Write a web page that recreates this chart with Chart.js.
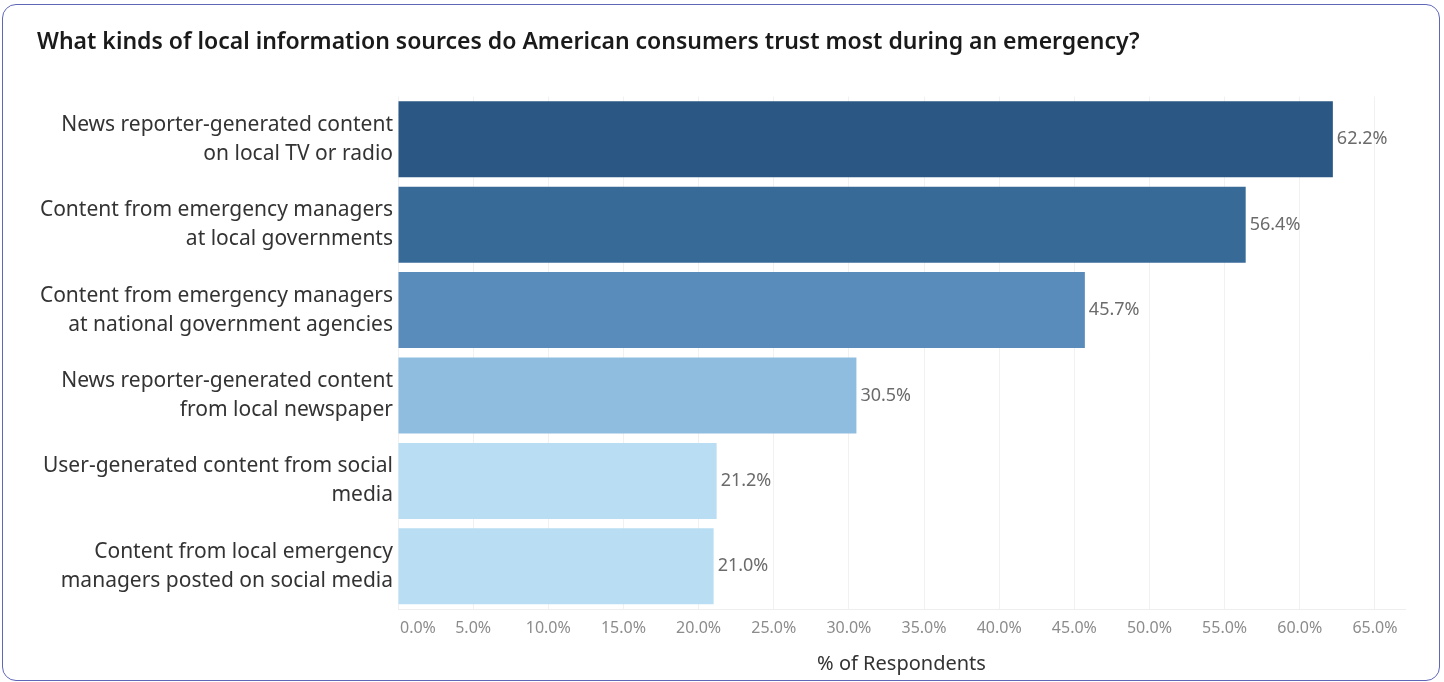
<!DOCTYPE html>
<html>
<head>
<meta charset="utf-8">
<script src="https://cdn.jsdelivr.net/npm/chart.js@4"></script>
<style>
    html, body { margin: 0; padding: 0; background: #fff; }
    .frame {
        position: absolute;
        left: 2px; top: 4px;
        width: 1436px; height: 675px;
        border: 1.5px solid #5f67b9;
        border-radius: 14px;
    }
    .chart-wrap {
        position: absolute;
        left: 0; top: 0;
        width: 1444px; height: 682px;
    }
</style>
</head>
<body>
<div class="frame"></div>
<div class="chart-wrap"><canvas id="trustChart"></canvas></div>
<script>
// Survey categories and share of respondents (%)
const sources = [
    ['News reporter-generated content', 'on local TV or radio'],
    ['Content from emergency managers', 'at local governments'],
    ['Content from emergency managers', 'at national government agencies'],
    ['News reporter-generated content', 'from local newspaper'],
    ['User-generated content from social', 'media'],
    ['Content from local emergency', 'managers posted on social media']
];
const respondents = [62.2, 56.4, 45.7, 30.5, 21.2, 21.0];
const barColors = ['#2a5783', '#386a98', '#5a8cbb', '#8fbde0', '#b9ddf2', '#b9ddf2'];
const axisMax = 67;
const tickStep = 5;

const fontFamily = '"Noto Sans", "Open Sans", sans-serif';

// Value labels at the end of each bar + left-aligned first x tick
const barLabels = {
    id: 'barLabels',
    afterDatasetsDraw(chart) {
        const ctx = chart.ctx;
        const meta = chart.getDatasetMeta(0);
        ctx.save();
        ctx.font = '18px ' + fontFamily;
        ctx.fillStyle = '#6b6b6b';
        ctx.textAlign = 'left';
        ctx.textBaseline = 'middle';
        meta.data.forEach((bar, i) => {
            ctx.fillText(respondents[i].toFixed(1) + '%', bar.x + 4, bar.y);
        });
        ctx.restore();
    },
    afterDraw(chart) {
        const x = chart.scales.x;
        const ctx = chart.ctx;
        ctx.save();
        ctx.font = '16px ' + fontFamily;
        ctx.fillStyle = '#8c8c8c';
        ctx.textAlign = 'left';
        ctx.textBaseline = 'middle';
        ctx.fillText('0.0%', x.getPixelForValue(0) + 2, x.top + 19.6);
        ctx.restore();
    }
};

const ctx = document.getElementById('trustChart').getContext('2d');
const trustChart = new Chart(ctx, {
    type: 'bar',
    data: {
        labels: sources,
        datasets: [{
            data: respondents,
            backgroundColor: barColors,
            borderWidth: 0,
            barPercentage: 0.89,
            categoryPercentage: 1
        }]
    },
    options: {
        indexAxis: 'y',
        responsive: true,
        maintainAspectRatio: false,
        animation: false,
        layout: {
            padding: { left: 37, right: 39, top: 0, bottom: 6 }
        },
        plugins: {
            legend: { display: false },
            tooltip: { enabled: false },
            title: {
                display: true,
                text: 'What kinds of local information sources do American consumers trust most during an emergency?',
                align: 'start',
                color: '#1a1a1a',
                font: { family: fontFamily, size: 23, weight: '600' },
                padding: { top: 29, bottom: 40 }
            }
        },
        scales: {
            x: {
                min: 0,
                max: axisMax,
                afterFit(scale) { scale.height = 67; },
                border: { display: true, color: '#eeeeee' },
                grid: { color: '#f1f1f1', drawTicks: false },
                ticks: {
                    stepSize: tickStep,
                    includeBounds: false,
                    padding: 10,
                    maxRotation: 0,
                    autoSkip: false,
                    color: c => c.index === 0 ? 'rgba(0,0,0,0)' : '#8c8c8c',
                    font: { family: fontFamily, size: 16 },
                    callback: v => v.toFixed(1) + '%'
                },
                title: {
                    display: true,
                    text: '% of Respondents',
                    color: '#333333',
                    font: { family: fontFamily, size: 20 },
                    padding: { top: 14, bottom: 0 }
                }
            },
            y: {
                border: { display: false },
                grid: { display: false },
                afterFit(scale) { scale.width = 361; },
                ticks: {
                    padding: -3,
                    color: '#333333',
                    font: { family: fontFamily, size: 21, lineHeight: 1.38 }
                }
            }
        }
    },
    plugins: [barLabels]
});
</script>
</body>
</html>
